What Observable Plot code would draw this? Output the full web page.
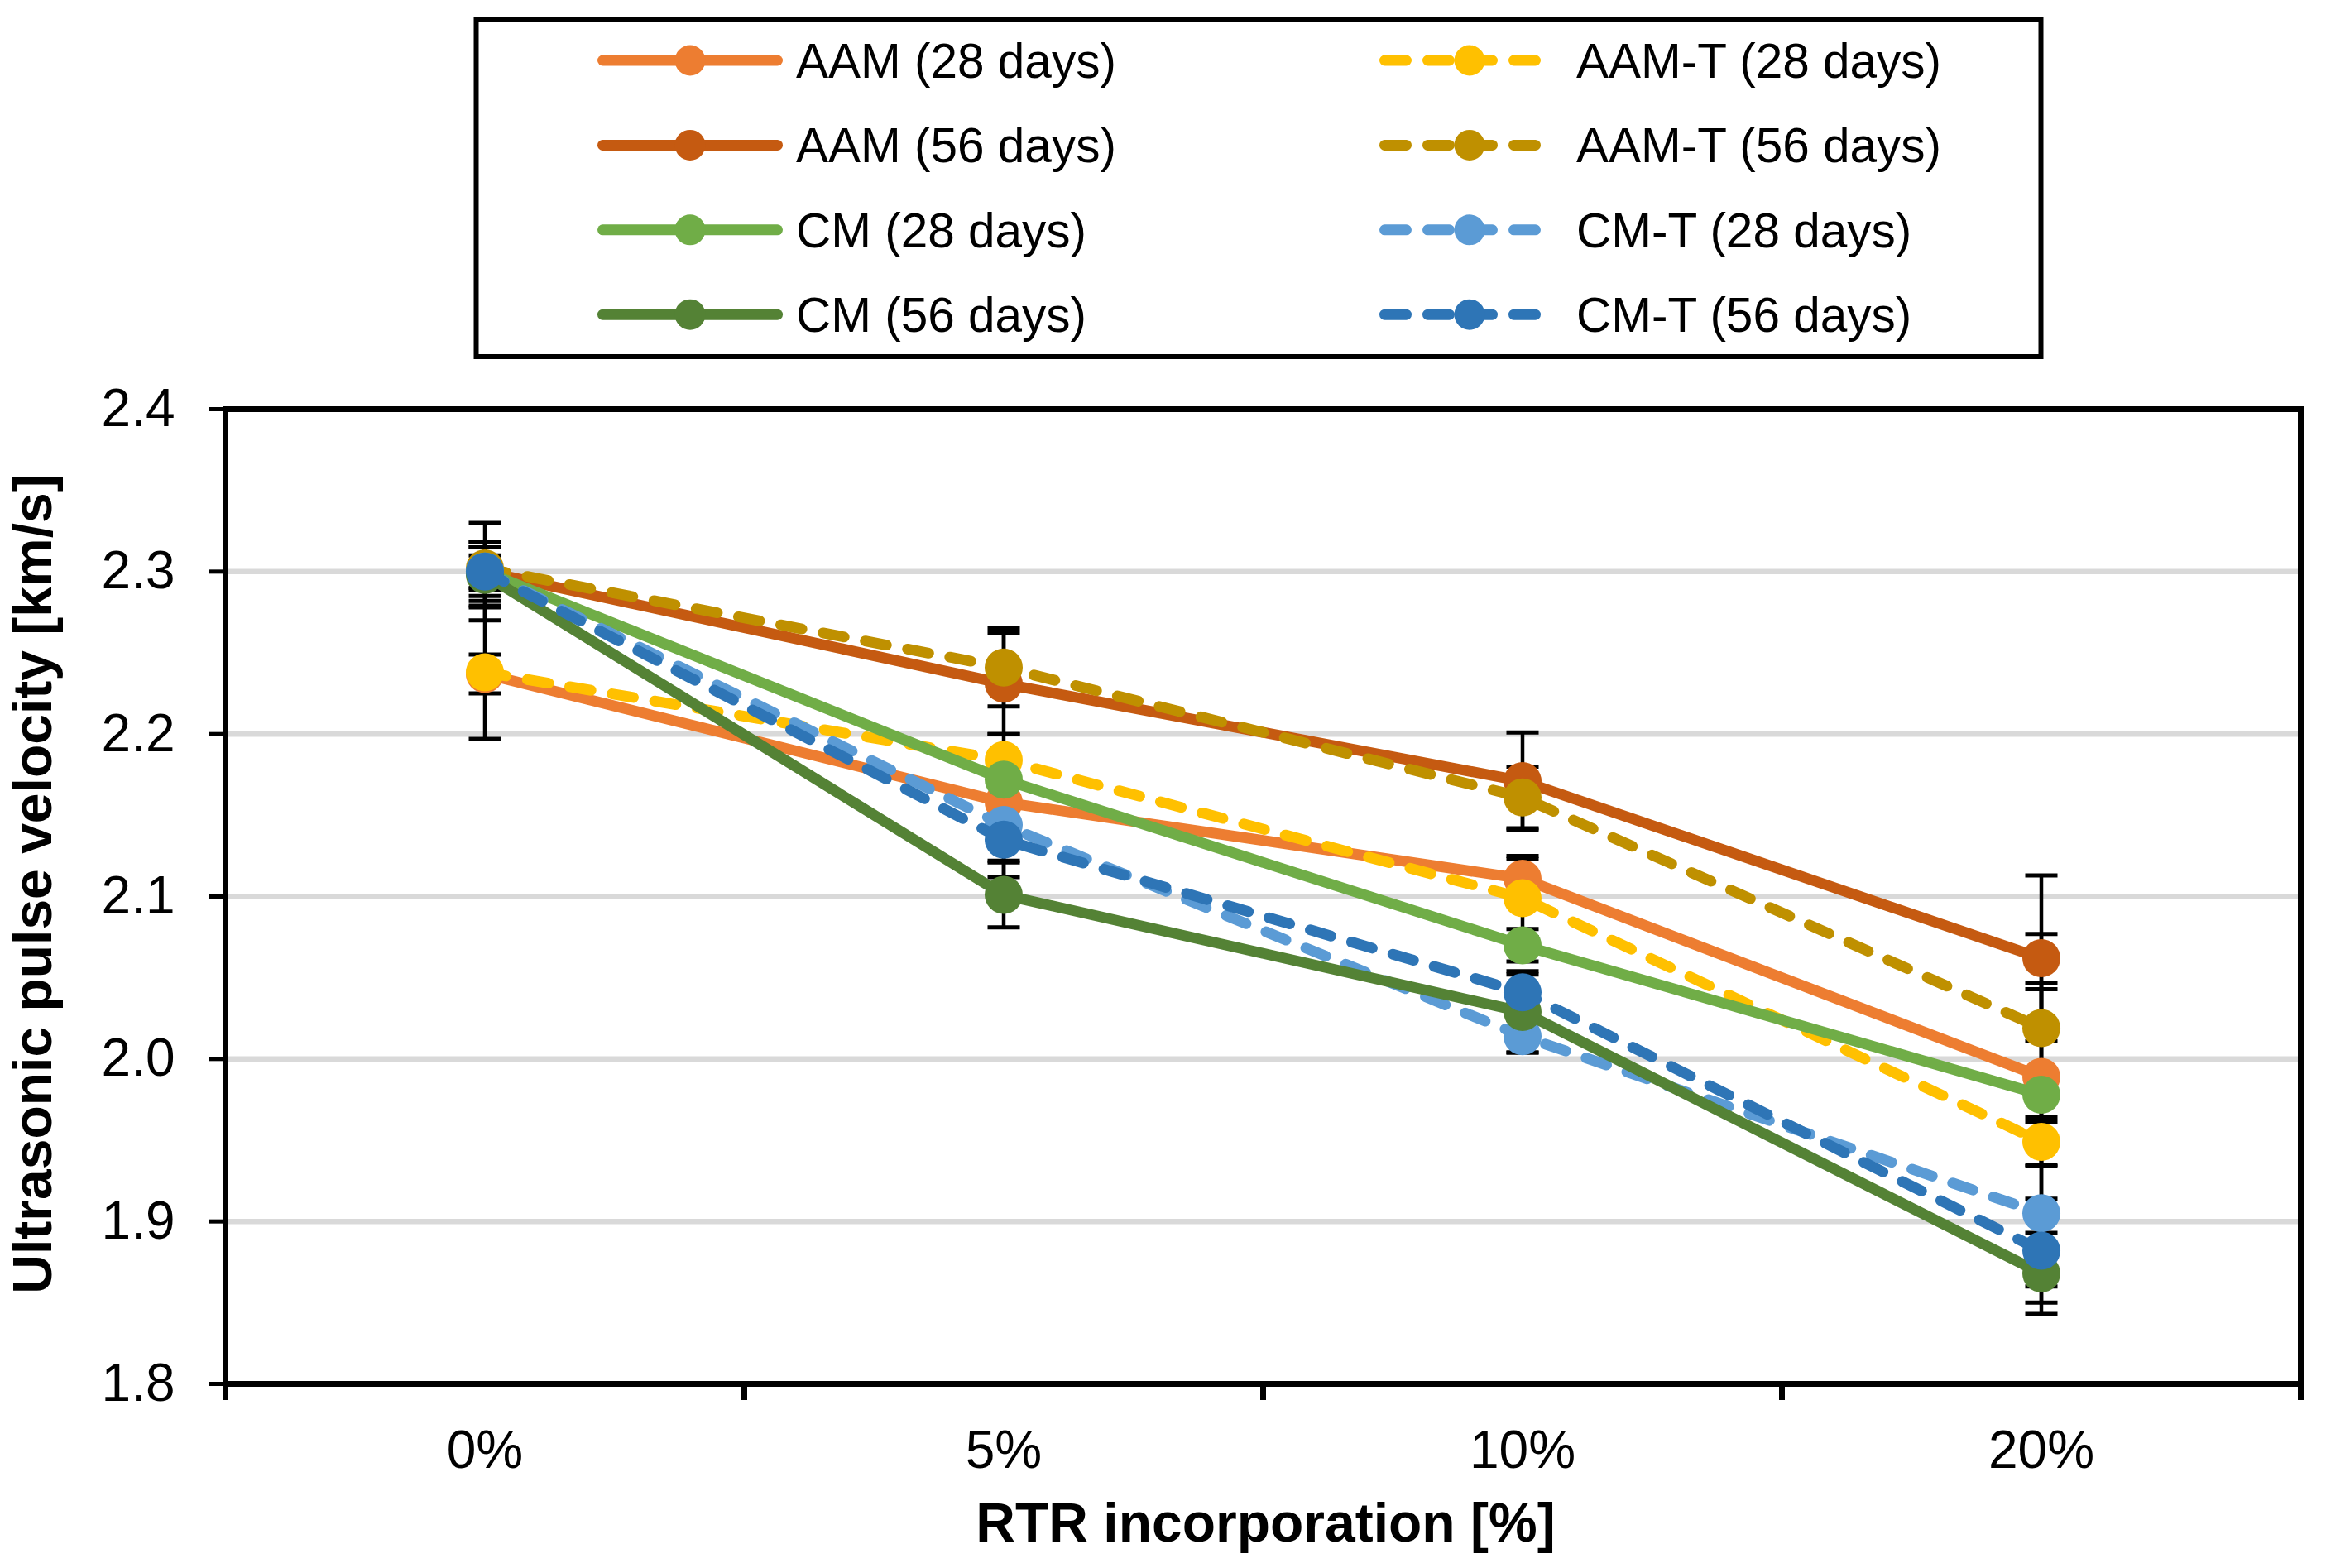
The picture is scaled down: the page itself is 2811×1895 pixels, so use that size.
<!DOCTYPE html>
<html><head><meta charset="utf-8">
<script src="https://cdn.jsdelivr.net/npm/d3@7"></script>
<script src="https://cdn.jsdelivr.net/npm/@observablehq/plot@0.6"></script>
<style>
html,body{margin:0;padding:0;background:#fff;}
#chart{width:2811px;background:#fff;}
svg{display:block;}
svg text{font-family:"Liberation Sans",Arial,sans-serif;}
</style></head><body><div id="chart"></div>
<script>
// ---- data ----
const categories = ["0%", "5%", "10%", "20%"];
const seriesNames = ["AAM (28 days)", "AAM-T (28 days)", "AAM (56 days)", "AAM-T (56 days)",
                     "CM (28 days)", "CM-T (28 days)", "CM (56 days)", "CM-T (56 days)"];
const seriesColors = ["#ED7D31", "#FFC000", "#C55A11", "#BF9000", "#70AD47", "#5B9BD5", "#548235", "#2E75B6"];
const seriesDashed = [false, true, false, true, false, true, false, true];

const aam28  = [2.237, 2.158, 2.111, 1.989];
const aamT28 = [2.238, 2.184, 2.099, 1.949];
const aam56  = [2.300, 2.231, 2.171, 2.062];
const aamT56 = [2.302, 2.241, 2.161, 2.019];
const cm28   = [2.300, 2.172, 2.070, 1.978];
const cmT28  = [2.300, 2.144, 2.014, 1.905];
const cm56   = [2.298, 2.101, 2.029, 1.868];
const cmT56  = [2.300, 2.135, 2.041, 1.882];

const aam28Err  = [0.012, 0.010, 0.014, 0.054];
const aamT28Err = [0.041, 0.016, 0.024, 0.015];
const aam56Err  = [0.030, 0.031, 0.030, 0.051];
const aamT56Err = [0.013, 0.024, 0.019, 0.058];
const cm28Err   = [0.015, 0.010, 0.010, 0.069];
const cmT28Err  = [0.010, 0.032, 0.010, 0.045];
const cm56Err   = [0.020, 0.020, 0.025, 0.025];
const cmT56Err  = [0.018, 0.013, 0.011, 0.032];

const yTicks = [1.8, 1.9, 2.0, 2.1, 2.2, 2.3, 2.4];
const yTitle = "Ultrasonic pulse velocity [km/s]";
const xTitle = "RTR incorporation [%]";

const seriesValues = [aam28, aamT28, aam56, aamT56, cm28, cmT28, cm56, cmT56];
const seriesErrors = [aam28Err, aamT28Err, aam56Err, aamT56Err, cm28Err, cmT28Err, cm56Err, cmT56Err];

const rows = [];
seriesNames.forEach((s, k) => categories.forEach((c, i) =>
  rows.push({series: s, k, cat: c, i: categories.indexOf(c), v: seriesValues[k][i], e: seriesErrors[k][i]})));

// ---- legend ----
const FONT = '"Liberation Sans", Arial, sans-serif';
const leg = d3.create("svg").attr("width", 2811).attr("height", 460);
leg.append("rect").attr("x", 575.5).attr("y", 23).attr("width", 1891).attr("height", 408)
  .attr("fill", "none").attr("stroke", "black").attr("stroke-width", 6);
seriesNames.forEach((s, k) => {
  const col = k % 2, row = Math.floor(k / 2);
  const cy = 73 + row * 102.4;
  const x0 = col ? 1667 : 722, x1 = col ? 1887 : 946, mx = col ? 1776 : 834, tx = col ? 1905 : 962;
  leg.append("line").attr("x1", x0 + 6.5).attr("x2", x1 - 6.5).attr("y1", cy).attr("y2", cy)
    .attr("stroke", seriesColors[k]).attr("stroke-width", 13).attr("stroke-linecap", "round")
    .attr("stroke-dasharray", seriesDashed[k] ? "26,26" : null);
  leg.append("circle").attr("cx", mx).attr("cy", cy).attr("r", 18.5).attr("fill", seriesColors[k]);
  leg.append("text").attr("x", tx).attr("y", cy + 21).attr("font-size", 58.5).attr("fill", "black")
    .style("font-family", FONT).text(s);
});

// ---- plot ----
const capSymbol = {draw(ctx, size) { const r = Math.sqrt(size / Math.PI); ctx.moveTo(-r, 0); ctx.lineTo(r, 0); }};
const marks = [
  Plot.gridY(yTicks.slice(1, -1), {stroke: "#D9D9D9", strokeOpacity: 1, strokeWidth: 6.5}),
  Plot.ruleX(rows, {x: "i", y1: d => d.v - d.e, y2: d => d.v + d.e, stroke: "black", strokeWidth: 4.5}),
  Plot.dot(rows, {x: "i", y: d => d.v + d.e, symbol: capSymbol, r: 19.5, stroke: "black", strokeWidth: 5, fill: "none"}),
  Plot.dot(rows, {x: "i", y: d => d.v - d.e, symbol: capSymbol, r: 19.5, stroke: "black", strokeWidth: 5, fill: "none"}),
  Plot.frame({stroke: "black", strokeWidth: 7})
];
seriesNames.forEach((s, k) => {
  const d = rows.filter(r => r.k === k);
  marks.push(Plot.line(d, {x: "i", y: "v", stroke: seriesColors[k], strokeWidth: 13,
    strokeDasharray: seriesDashed[k] ? "26,26" : undefined,
    strokeLinecap: seriesDashed[k] ? "round" : "butt", strokeLinejoin: "round"}));
  marks.push(Plot.dot(d, {x: "i", y: "v", r: 23, fill: seriesColors[k], stroke: "none"}));
});
marks.push(
  Plot.axisY(yTicks, {tickSize: 20, tickPadding: 41, strokeWidth: 5, tickFormat: d3.format(".1f"), fontSize: 64, label: null}),
  Plot.axisX([0, 1, 2, 3], {tickSize: 0, tickPadding: 56, tickFormat: i => categories[i], fontSize: 64, label: null}),
  Plot.axisX([-0.5, 0.5, 1.5, 2.5, 3.5], {tickSize: 20, strokeWidth: 7, tickFormat: () => "", label: null}),
  Plot.text([yTitle], {frameAnchor: "left", text: d => d, rotate: -90, dx: -211, dy: -15, lineAnchor: "bottom", textAnchor: "middle", fontSize: 66, fontWeight: "bold"}),
  Plot.text([xTitle], {frameAnchor: "bottom", text: d => d, dy: 190, dx: 3, lineAnchor: "bottom", textAnchor: "middle", fontSize: 66, fontWeight: "bold"})
);

const plot = Plot.plot({
  width: 2811, height: 1435,
  marginTop: 34, marginBottom: 223, marginLeft: 272, marginRight: 31,
  x: {type: "linear", domain: [-0.5, 3.5]},
  y: {type: "linear", domain: [1.8, 2.4]},
  style: {fontFamily: FONT, fontSize: "64px", color: "black", background: "white", overflow: "visible"},
  marks
});

const chart = document.getElementById("chart");
chart.appendChild(leg.node());
chart.appendChild(plot);
</script></body></html>
